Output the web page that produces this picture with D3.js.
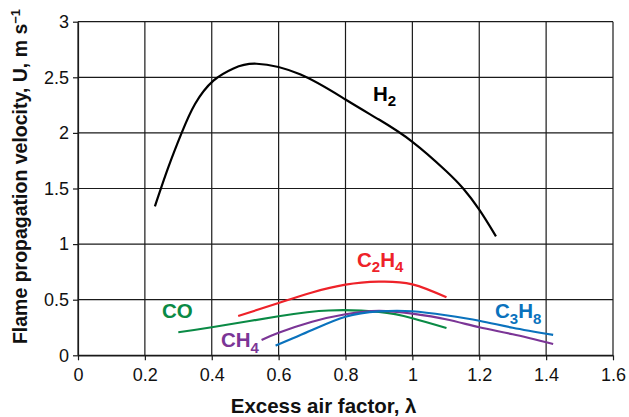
<!DOCTYPE html>
<html>
<head>
<meta charset="utf-8">
<script src="https://cdn.jsdelivr.net/npm/d3@7"></script>
<style>
  html, body { margin: 0; padding: 0; background: #fff; }
  svg { display: block; font-family: "Liberation Sans", Arial, Helvetica, sans-serif; }
</style>
</head>
<body>
<svg id="chart" width="629" height="417"></svg>
<script>
// Flame propagation velocity U (m/s) against excess air factor λ
const xTicks = [0, 0.2, 0.4, 0.6, 0.8, 1, 1.2, 1.4, 1.6];
const yTicks = [0, 0.5, 1, 1.5, 2, 2.5, 3];

const h2Lambda = [0.23, 0.27, 0.31, 0.35, 0.405, 0.465, 0.534, 0.664, 0.80, 0.90, 1.0, 1.10, 1.152, 1.20, 1.25];
const h2U      = [1.34, 1.69, 2.00, 2.26, 2.47, 2.58, 2.622, 2.527, 2.30, 2.12, 1.92, 1.66, 1.50, 1.31, 1.07];

const c2h4Lambda = [0.479, 0.60, 0.70, 0.80, 0.90, 1.0, 1.102];
const c2h4U      = [0.353, 0.47, 0.565, 0.635, 0.662, 0.638, 0.521];

const coLambda = [0.30, 0.40, 0.60, 0.75, 0.90, 1.0, 1.102];
const coU      = [0.207, 0.252, 0.351, 0.403, 0.39, 0.333, 0.245];

const ch4Lambda = [0.549, 0.60, 0.70, 0.80, 0.90, 1.0, 1.10, 1.20, 1.30, 1.421];
const ch4U      = [0.138, 0.203, 0.302, 0.369, 0.40, 0.374, 0.324, 0.252, 0.189, 0.102];

const c3h8Lambda = [0.591, 0.70, 0.80, 0.90, 1.0, 1.10, 1.20, 1.30, 1.421];
const c3h8U      = [0.087, 0.227, 0.347, 0.395, 0.396, 0.36, 0.311, 0.248, 0.183];

const series = [
  { name: "H2",   x: h2Lambda,   y: h2U,   color: "#000000" },
  { name: "C2H4", x: c2h4Lambda, y: c2h4U, color: "#ee2229" },
  { name: "CO",   x: coLambda,   y: coU,   color: "#0a8a45" },
  { name: "CH4",  x: ch4Lambda,  y: ch4U,  color: "#7b3596" },
  { name: "C3H8", x: c3h8Lambda, y: c3h8U, color: "#0a72bd" }
];

const svg = d3.select("#chart");
const plotLeft = 78, plotRight = 613, plotTop = 21.7, plotBottom = 355.3;

const x = d3.scaleLinear().domain([0, 1.6]).range([plotLeft, plotRight]);
const y = d3.scaleLinear().domain([0, 3]).range([plotBottom, plotTop]);

const gridColor = "#1a1a1a";

// grid
const grid = svg.append("g").attr("stroke", gridColor).attr("stroke-width", 1.2);
grid.selectAll("line.v").data(xTicks).join("line").attr("class", "v")
  .attr("x1", d => x(d)).attr("x2", d => x(d)).attr("y1", plotTop).attr("y2", plotBottom);
grid.selectAll("line.h").data(yTicks).join("line").attr("class", "h")
  .attr("x1", plotLeft).attr("x2", plotRight).attr("y1", d => y(d)).attr("y2", d => y(d));

// axes
const xAxis = d3.axisBottom(x).tickValues(xTicks).tickFormat(d3.format("")).tickSize(5).tickSizeOuter(0).tickPadding(8.4);
const yAxis = d3.axisLeft(y).tickValues(yTicks).tickFormat(d3.format("")).tickSize(5).tickSizeOuter(0).tickPadding(4);

const gx = svg.append("g").attr("transform", `translate(0,${plotBottom})`).call(xAxis);
const gy = svg.append("g").attr("transform", `translate(${plotLeft},0)`).call(yAxis);
[gx, gy].forEach(g => {
  g.select(".domain").attr("stroke", gridColor).attr("stroke-width", 1.2);
  g.selectAll(".tick line").attr("stroke", gridColor).attr("stroke-width", 1.2);
  g.selectAll(".tick text").attr("fill", "#111").style("font-size", "18px").style("font-family", "Liberation Sans, Arial, sans-serif");
});

// curves
const line = d3.line().x(d => x(d[0])).y(d => y(d[1])).curve(d3.curveNatural);
svg.append("g").selectAll("path").data(series).join("path")
  .attr("d", s => line(d3.zip(s.x, s.y)))
  .attr("fill", "none")
  .attr("stroke", d => d.color)
  .attr("stroke-width", 2.2)
  .attr("stroke-linecap", "butt");

// series labels with subscripts
const labels = [
  { base: "H", sub: "2", px: 373, py: 100.5, color: "#000000" },
  { base: "C", sub: "2", tail: "H", sub2: "4", px: 357, py: 266.5, color: "#ee2229" },
  { base: "CO", px: 162, py: 317.5, color: "#0a8a45" },
  { base: "CH", sub: "4", px: 221, py: 347, color: "#7b3596" },
  { base: "C", sub: "3", tail: "H", sub2: "8", px: 495, py: 318, color: "#0a72bd" }
];
labels.forEach(l => {
  const t = svg.append("text").attr("x", l.px).attr("y", l.py)
    .attr("fill", l.color).style("font-size", "20.5px").style("font-weight", "bold");
  t.append("tspan").text(l.base);
  if (l.sub) t.append("tspan").attr("dy", 5.5).style("font-size", "15px").text(l.sub);
  if (l.tail) t.append("tspan").attr("dy", -5.5).text(l.tail);
  if (l.sub2) t.append("tspan").attr("dy", 5.5).style("font-size", "15px").text(l.sub2);
});

// axis titles
svg.append("text")
  .attr("x", 323.6).attr("y", 413)
  .attr("text-anchor", "middle")
  .style("font-size", "20.5px").style("font-weight", "bold").attr("fill", "#111")
  .text("Excess air factor, λ");

const yt = svg.append("text")
  .attr("transform", `translate(26.5,176.5) rotate(-90)`)
  .attr("text-anchor", "middle")
  .style("font-size", "19.5px").style("font-weight", "bold").attr("fill", "#111");
yt.append("tspan").text("Flame propagation velocity, U, m s");
yt.append("tspan").attr("dy", -7).style("font-size", "13px").text("−1");
</script>
</body>
</html>
